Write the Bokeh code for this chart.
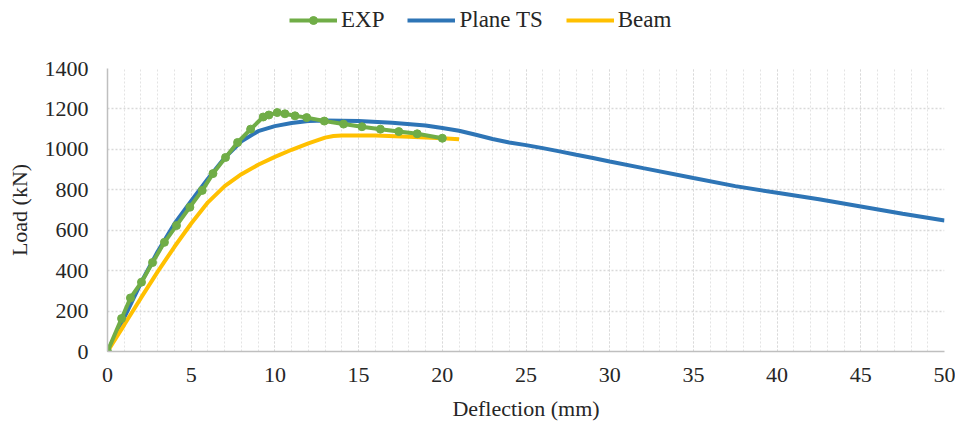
from bokeh.plotting import figure
from bokeh.layouts import column
from bokeh.models import Range1d, SingleIntervalTicker, Legend, LegendItem
from bokeh.embed import file_html
from bokeh.resources import INLINE

# EXP data
exp_x = [0, 0.84, 1.37, 2.03, 2.69, 3.4, 4.12, 4.92, 5.66, 6.3, 7.05, 7.77, 8.55, 9.3, 9.64, 10.14, 10.6, 11.2, 11.9, 12.95, 14.1, 15.2, 16.3, 17.4, 18.5, 20.0]
exp_y = [0, 163, 265, 343, 440, 540, 623, 714, 797, 880, 960, 1034, 1100, 1160, 1170, 1182, 1176, 1166, 1157, 1140, 1125, 1112, 1100, 1088, 1077, 1055]

# Plane TS data
ts_x = [0, 1, 2, 3, 4, 5, 6, 7, 8, 9, 10, 11, 12, 13, 15, 17, 19, 20, 21, 22, 23, 24, 25, 26, 27, 28, 29, 30, 32, 35, 37.5, 40, 42.5, 45, 47.5, 50]
ts_y = [0, 168, 340, 495, 632, 745, 855, 958, 1040, 1090, 1115, 1130, 1140, 1143, 1140, 1132, 1118, 1106, 1092, 1072, 1051, 1034, 1021, 1006, 990, 973, 957, 940, 907, 858, 818, 785, 753, 717, 681, 648]

# Beam data
beam_x = [0, 1, 2, 3, 4, 5, 6, 7, 8, 9, 10, 11, 12, 13, 13.5, 14, 16, 18, 20, 21]
beam_y = [0, 132, 265, 395, 518, 633, 738, 818, 877, 924, 963, 998, 1030, 1058, 1066, 1069, 1068, 1062, 1055, 1050]

y_ticks = [0, 200, 400, 600, 800, 1000, 1200, 1400]
series_names = ["EXP", "Plane TS", "Beam"]
series_colors = ["#70ad47", "#2e75b6", "#ffc000"]

FONT = "Liberation Serif"
TXT = "#262626"

p = figure(width=955, height=385, output_backend="svg", toolbar_location=None,
           x_range=Range1d(0, 50), y_range=Range1d(0, 1400),
           min_border_left=107, min_border_right=11, min_border_top=28, min_border_bottom=74)
p.outline_line_color = None

p.xaxis.ticker = SingleIntervalTicker(interval=5, num_minor_ticks=5)
p.yaxis.ticker = y_ticks
p.axis.axis_line_color = "#bfbfbf"
p.axis.axis_line_width = 1.5
p.axis.major_tick_line_color = None
p.axis.minor_tick_line_color = None
p.axis.major_tick_out = 0
p.axis.major_tick_in = 0
p.axis.minor_tick_out = 0
p.axis.minor_tick_in = 0
p.axis.major_label_text_font = FONT
p.axis.major_label_text_font_size = "22px"
p.axis.major_label_text_color = TXT
p.axis.axis_label_text_font = FONT
p.axis.axis_label_text_font_size = "22px"
p.axis.axis_label_text_font_style = "normal"
p.axis.axis_label_text_color = TXT

p.xaxis.axis_label = "Deflection (mm)"
p.yaxis.axis_label = "Load (kN)"
p.xaxis.major_label_standoff = 16
p.yaxis.major_label_standoff = 19
p.xaxis.axis_label_standoff = 11
p.yaxis.axis_label_standoff = 10

p.xgrid.grid_line_color = "#d9d9d9"
p.xgrid.grid_line_dash = "2 2"
p.xgrid.minor_grid_line_color = "#e3e3e3"
p.xgrid.minor_grid_line_dash = "2 2"
p.ygrid.grid_line_color = "#d9d9d9"
p.ygrid.grid_line_dash = "2 2"
p.ygrid.grid_line_width = 1.5

p.line(ts_x, ts_y, line_color=series_colors[1], line_width=4)
p.line(beam_x, beam_y, line_color=series_colors[2], line_width=4)
p.line(exp_x, exp_y, line_color=series_colors[0], line_width=4)
p.scatter(exp_x, exp_y, size=8, fill_color=series_colors[0], line_color=series_colors[0])

# legend strip above the chart (its frame is aligned with the chart's frame)
lg = figure(width=955, height=40, output_backend="svg", toolbar_location=None,
            x_range=Range1d(0, 1), y_range=Range1d(-3, -2),
            x_axis_type=None, y_axis_type=None,
            min_border_left=0, min_border_right=0, min_border_top=0, min_border_bottom=0)
lg.outline_line_color = None
lg.xgrid.visible = False
lg.ygrid.visible = False
# same series drawn out of this strip's view, only to feed the legend glyphs
l_exp = lg.line(exp_x, exp_y, line_color=series_colors[0], line_width=4)
l_exp_pts = lg.scatter(exp_x, exp_y, size=8, fill_color=series_colors[0], line_color=series_colors[0])
l_ts = lg.line(ts_x, ts_y, line_color=series_colors[1], line_width=4)
l_beam = lg.line(beam_x, beam_y, line_color=series_colors[2], line_width=4)

legend = Legend(items=[
    LegendItem(label=series_names[0], renderers=[l_exp, l_exp_pts]),
    LegendItem(label=series_names[1], renderers=[l_ts]),
    LegendItem(label=series_names[2], renderers=[l_beam]),
], orientation="horizontal", location=(182, 7))
legend.label_text_font = FONT
legend.label_text_font_size = "23px"
legend.label_text_color = TXT
legend.glyph_width = 48
legend.label_standoff = 4
legend.spacing = 23
legend.padding = 0
legend.margin = 0
legend.border_line_color = None
legend.background_fill_alpha = 0
lg.add_layout(legend, "center")

open("out.html", "w").write(file_html(column(lg, p, spacing=0), INLINE))
